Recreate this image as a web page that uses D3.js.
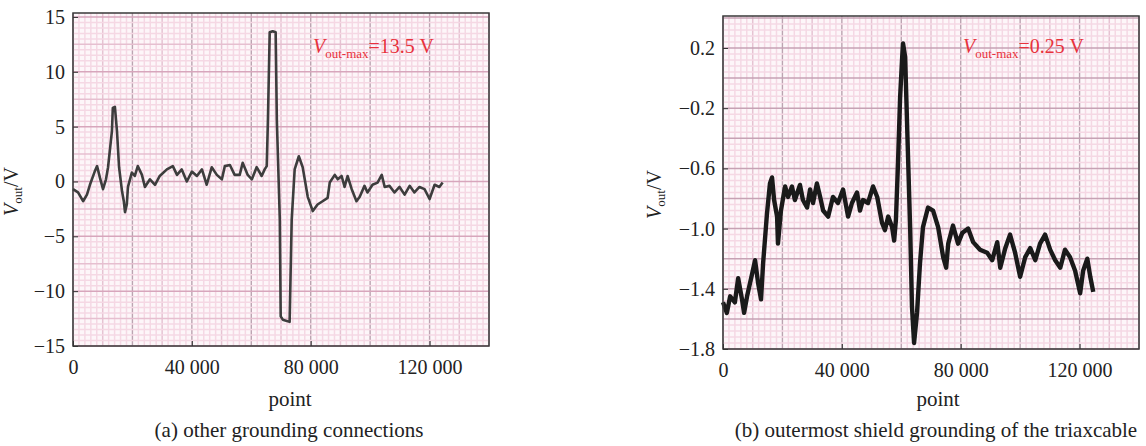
<!DOCTYPE html>
<html>
<head>
<meta charset="utf-8">
<title>Vout traces</title>
<script src="https://d3js.org/d3.v7.min.js"></script>
<style>
  body { margin: 0; background: #fff; }
</style>
</head>
<body>
<div id="output"></div>
<script>

var serif = "'Liberation Serif', 'DejaVu Serif', serif";

// ---- data ----
var xTicks = [0, 40000, 80000, 120000];

// (a) other grounding connections
var aTicksY = [-15, -10, -5, 0, 5, 10, 15];
var aPoint = [0, 1700, 3400, 4700, 5700, 7300, 8100, 9100, 10100, 11100, 11800, 13100, 13400, 14100, 14800,
  15500, 16500, 17100, 17500, 18100, 18500, 19800, 20800, 21800, 23200, 24200, 25900, 27600, 29200, 31600,
  33600, 35000, 36600, 38300, 40000, 41700, 43400, 45000, 46700, 48400, 50100, 51100, 52800, 54400, 56100,
  57100, 58800, 60200, 61800, 63500, 64500, 65200, 65600, 66200, 67200, 68200, 68600, 69600, 69900, 70600,
  72900, 73600, 74600, 76000, 77300, 79000, 80700, 82300, 84000, 85700, 86400, 88100, 89100, 90400, 91400,
  92400, 93800, 95400, 96500, 98100, 99100, 100800, 102500, 103900, 104900, 106500, 108200, 109900, 111600,
  113300, 114900, 116600, 118300, 120000, 121700, 123300, 124400];
var aVout = [-0.7, -1.0, -1.8, -1.2, -0.3, 0.9, 1.4, 0.3, -0.7, 0.2, 1.3, 4.6, 6.7, 6.8, 4.6,
  1.3, -0.9, -1.8, -2.8, -2.1, -0.5, 0.8, 0.5, 1.4, 0.6, -0.5, 0.2, -0.3, 0.5, 1.1,
  1.4, 0.6, 1.1, 0.0, 0.9, 0.5, 1.1, -0.3, 1.3, 0.6, 0.2, 1.4, 1.5, 0.6, 0.6,
  1.7, 0.6, 0.2, 1.3, 0.5, 1.1, 1.4, 5.6, 13.6, 13.7, 13.6, 5.6, -3.5, -12.3, -12.6,
  -12.8, -3.5, 1.1, 2.3, 1.3, -1.4, -2.7, -2.1, -1.8, -1.5, -0.1, 0.6, 0.2, 0.5, -0.5,
  0.5, -0.7, -1.8, -1.4, -0.4, -1.0, -0.3, -0.1, 0.6, -0.5, -0.4, -1.0, -0.5, -1.2,
  -0.4, -1.0, -0.5, -0.7, -1.6, -0.3, -0.5, -0.1];
var aNote = "13.5 V";

// (b) outermost shield grounding of the triaxcable
var bTicksY = [-1.8, -1.4, -1.0, -0.6, -0.2, 0.2];
var bPoint = [0, 1300, 2400, 4000, 5100, 6400, 7100, 8100, 9800, 10800, 11800, 12800, 13500, 14800, 15800,
  16500, 17200, 18200, 18500, 19500, 20900, 21900, 23200, 24200, 25900, 26900, 28300, 29300, 30300, 31600,
  32700, 33700, 35400, 37000, 38700, 40400, 42100, 43400, 45100, 46100, 47100, 48800, 50500, 51900, 53500,
  54500, 55600, 56900, 57600, 58200, 58900, 59600, 60300, 60600, 61300, 62000, 63000, 63600, 64300, 65300,
  66300, 67300, 69000, 70700, 72400, 74100, 75100, 75800, 77400, 79100, 80500, 82500, 84200, 86500, 88900,
  90600, 92300, 93300, 95000, 96600, 98300, 100000, 101700, 103400, 105100, 106700, 108400, 110100, 111800,
  113500, 115100, 116800, 118500, 120200, 121200, 122600, 123600, 124600];
var bVout = [-1.49, -1.56, -1.45, -1.49, -1.33, -1.47, -1.56, -1.45, -1.30, -1.21, -1.36, -1.47, -1.23, -0.90, -0.70,
  -0.66, -0.81, -0.92, -1.10, -0.88, -0.72, -0.79, -0.72, -0.81, -0.71, -0.81, -0.86, -0.74, -0.83, -0.70,
  -0.79, -0.88, -0.92, -0.79, -0.83, -0.74, -0.92, -0.83, -0.76, -0.88, -0.81, -0.83, -0.72, -0.79, -0.96,
  -1.01, -0.92, -0.99, -1.08, -0.94, -0.56, -0.13, 0.14, 0.23, 0.14, -0.34, -1.01, -1.52, -1.76, -1.56,
  -1.23, -0.99, -0.86, -0.88, -0.99, -1.19, -1.26, -1.10, -0.98, -1.10, -1.03, -1.00, -1.09, -1.14, -1.16,
  -1.21, -1.09, -1.26, -1.13, -1.04, -1.16, -1.32, -1.19, -1.13, -1.21, -1.10, -1.04, -1.14, -1.21,
  -1.26, -1.14, -1.19, -1.28, -1.43, -1.28, -1.20, -1.32, -1.42];
var bNote = "0.25 V";

// ---- drawing ----
var svg = d3.select("#output").append("svg")
    .attr("width", 1146)
    .attr("height", 446)
    .style("font-family", serif);

function fmtX(d) {
    if (d === 0) return "0";
    var s = String(d);
    return s.slice(0, s.length - 3) + " " + s.slice(-3);
}
function fmtY(dec) {
    return function(d) {
        var s = Math.abs(d).toFixed(dec);
        return (d < 0 ? "\u2212" : "") + s;
    };
}

function drawPanel(opt) {
    var w = 416, h = 333;
    var g = svg.append("g").attr("transform", "translate(" + opt.left + "," + opt.top + ")");

    var x = d3.scaleLinear().domain([0, 140000]).range([0, w]);
    var y = d3.scaleLinear().domain(opt.yDomain).range([h, 0]);

    // graph paper
    g.append("rect").attr("width", w).attr("height", h).attr("fill", "#fdf6f9");

    var vMinor = d3.range(0, 140001, 2000);
    g.selectAll(".vmin").data(vMinor).enter().append("line")
        .attr("x1", function(d) { return x(d); }).attr("x2", function(d) { return x(d); })
        .attr("y1", 0).attr("y2", h)
        .attr("stroke", function(d) {
            if (d % 20000 === 0) return "#bca3b1";
            if (d % 10000 === 0) return "#e6c3d2";
            return "#f5d8e4";
        })
        .attr("stroke-width", function(d) { return d % 20000 === 0 ? 1.4 : 1.5; });

    var hMinor = [];
    for (var v = opt.yDomain[0]; v <= opt.yDomain[1] + 1e-9; v += opt.hStep) hMinor.push(+v.toFixed(4));
    g.selectAll(".hmin").data(hMinor).enter().append("line")
        .attr("x1", 0).attr("x2", w)
        .attr("y1", function(d) { return y(d); }).attr("y2", function(d) { return y(d); })
        .attr("stroke", function(d) {
            var k = Math.round((d - opt.yDomain[0]) / opt.hStep);
            if (k % opt.hMajor === 0) return opt.hMajorColor;
            if (opt.hMid && k % opt.hMid === 0) return "#e6bfd0";
            return "#f5d8e4";
        })
        .attr("stroke-width", 1.5);

    // trace
    var line = d3.line()
        .x(function(d, i) { return x(opt.px[i]); })
        .y(function(d) { return y(d); })
        .curve(d3.curveLinear);
    g.append("path").datum(opt.vals)
        .attr("d", line)
        .attr("fill", "none")
        .attr("stroke", opt.traceColor)
        .attr("stroke-width", opt.traceWidth)
        .attr("stroke-linejoin", "round");

    // frame
    g.append("rect").attr("width", w).attr("height", h)
        .attr("fill", "none").attr("stroke", "#3a3a3a").attr("stroke-width", 1.5);

    // axes
    g.append("g").attr("class", "axis")
        .attr("transform", "translate(0," + h + ")")
        .call(d3.axisBottom(x).tickValues(xTicks).tickFormat(fmtX).tickSize(-5).tickSizeOuter(0).tickPadding(14))
        .call(function(a) { a.select(".domain").remove(); a.selectAll("line").attr("stroke", "#333"); });
    g.append("g").attr("class", "axis")
        .call(d3.axisLeft(y).tickValues(opt.yTicks).tickFormat(opt.fmt).tickSize(-5).tickSizeOuter(0).tickPadding(8))
        .call(function(a) { a.select(".domain").remove(); a.selectAll("line").attr("stroke", "#333"); });
    g.selectAll(".axis").attr("font-family", serif).attr("font-size", 20);
    g.selectAll(".axis text").attr("fill", "#222");

    // axis titles
    g.append("text").attr("x", opt.pointX).attr("y", 406 - opt.top)
        .attr("text-anchor", "middle").attr("fill", "#222").style("font-size", "21px").text("point");

    var yl = g.append("text")
        .attr("transform", "translate(" + opt.ylX + "," + (h / 2 + 12) + ") rotate(-90)")
        .attr("text-anchor", "middle").attr("fill", "#222").style("font-size", "20px");
    yl.append("tspan").attr("font-style", "italic").text("V");
    yl.append("tspan").attr("dy", 4).style("font-size", "13px").text("out");
    yl.append("tspan").attr("dy", -4).text("/V");

    // annotation
    var note = g.append("text").attr("x", opt.noteX).attr("y", 53 - opt.top)
        .attr("fill", "#e8323c").style("font-size", "20px");
    note.append("tspan").attr("font-style", "italic").text("V");
    note.append("tspan").attr("dy", 5).style("font-size", "13px").text("out-max");
    note.append("tspan").attr("dy", -5).text("=" + opt.note);

    // caption
    svg.append("text").attr("x", opt.capX).attr("y", 437)
        .attr("text-anchor", "middle").attr("fill", "#222").style("font-size", "21px").text(opt.caption);
}

drawPanel({
    left: 73, top: 13,
    yDomain: [-15, 15.36], yTicks: aTicksY, fmt: fmtY(0),
    hStep: 0.5, hMajor: 10, hMid: 5, hMajorColor: "#d7a6bc",
    px: aPoint, vals: aVout,
    traceColor: "#3d3d3d", traceWidth: 2.6,
    note: aNote, noteX: 240, pointX: 217, ylX: -55,
    caption: "(a) other grounding connections", capX: 289
});

drawPanel({
    left: 723, top: 16,
    yDomain: [-1.8, 0.4126], yTicks: bTicksY, fmt: fmtY(1),
    hStep: 0.04, hMajor: 5, hMid: 0, hMajorColor: "#c6a2b4",
    px: bPoint, vals: bVout,
    traceColor: "#1a1a1a", traceWidth: 4.4,
    note: bNote, noteX: 240, pointX: 215, ylX: -62,
    caption: "(b) outermost shield grounding of the triaxcable", capX: 936
});

</script>
</body>
</html>
